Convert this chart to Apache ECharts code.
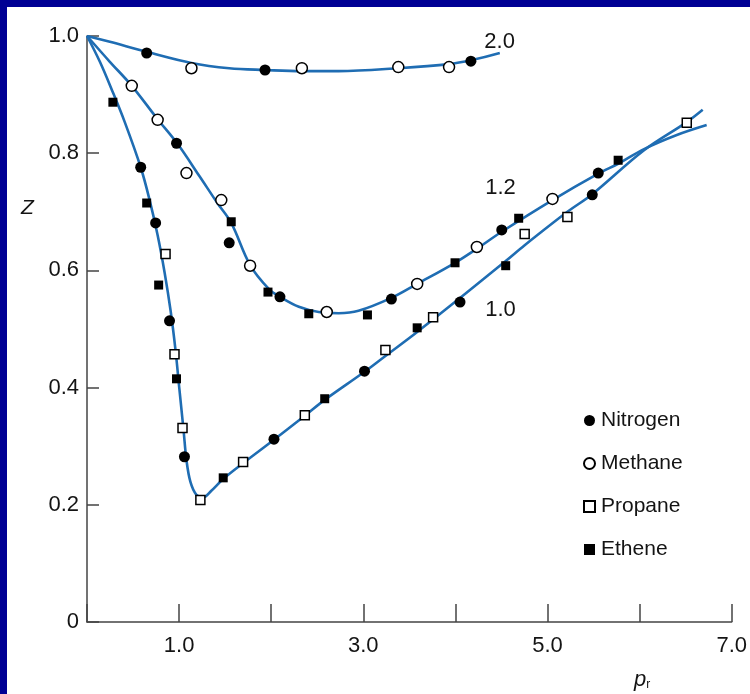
<!DOCTYPE html>
<html><head><meta charset="utf-8">
<script src="https://cdn.jsdelivr.net/npm/echarts@6/dist/echarts.min.js"></script>
<style>
html,body{margin:0;padding:0;background:#000094;width:750px;height:694px;overflow:hidden}
#c{position:absolute;left:7px;top:7px;width:743px;height:687px;background:#fff}
</style></head><body><div id="c"></div>
<script>
// ---- data ----
const xTicks = [0,1,2,3,4,5,6,7];
const yTicks = [0,0.2,0.4,0.6,0.8,1.0];
const curve20 = [[0,1.0],[0.248,0.990],[0.648,0.973],[1.134,0.954],[1.544,0.945],[1.933,0.942],[2.333,0.940],[2.732,0.940],[3.380,0.945],[3.931,0.952],[4.179,0.959],[4.482,0.971]];
const curve12 = [[0,1.0],[0.248,0.956],[0.486,0.915],[0.767,0.858],[0.983,0.816],[1.220,0.761],[1.415,0.715],[1.566,0.681],[1.771,0.609],[1.976,0.568],[2.095,0.555],[2.300,0.538],[2.516,0.529],[2.732,0.527],[2.948,0.531],[3.305,0.553],[3.585,0.577],[3.996,0.613],[4.233,0.637],[4.503,0.666],[5.054,0.720],[5.551,0.765],[5.767,0.782],[6.048,0.807],[6.404,0.831],[6.728,0.848]];
const curve10 = [[0,1.0],[0.140,0.956],[0.270,0.908],[0.410,0.853],[0.583,0.776],[0.680,0.720],[0.767,0.660],[0.842,0.597],[0.907,0.532],[0.961,0.464],[1.004,0.396],[1.048,0.328],[1.080,0.276],[1.123,0.239],[1.188,0.217],[1.263,0.213],[1.350,0.224],[1.479,0.244],[1.695,0.271],[2.030,0.311],[2.365,0.352],[2.581,0.379],[3.013,0.427],[3.240,0.454],[3.585,0.495],[4.050,0.553],[4.546,0.616],[4.752,0.643],[5.216,0.700],[5.486,0.730],[6.048,0.805],[6.512,0.853],[6.685,0.874]];
const nitrogen = [[0.648,0.971],[1.933,0.942],[4.168,0.957],[0.972,0.817],[1.544,0.647],[2.095,0.555],[3.305,0.551],[4.503,0.669],[5.551,0.766],[0.583,0.776],[0.745,0.681],[0.896,0.514],[1.058,0.282],[2.030,0.312],[3.013,0.428],[4.050,0.546],[5.486,0.729]];
const methane = [[1.134,0.945],[2.333,0.945],[3.380,0.947],[3.931,0.947],[0.486,0.915],[0.767,0.857],[1.080,0.766],[1.458,0.720],[1.771,0.608],[2.603,0.529],[3.585,0.577],[4.233,0.640],[5.054,0.722]];
const propane = [[0.853,0.628],[0.950,0.457],[1.037,0.331],[1.231,0.208],[1.695,0.273],[2.365,0.353],[3.240,0.464],[3.758,0.520],[4.752,0.662],[5.216,0.691],[6.512,0.852]];
const ethene = [[0.281,0.887],[0.648,0.715],[0.778,0.575],[0.972,0.415],[1.479,0.246],[2.581,0.381],[3.585,0.502],[4.546,0.608],[1.566,0.683],[1.965,0.563],[2.408,0.526],[3.045,0.524],[3.996,0.613],[4.687,0.689],[5.767,0.788]];
const curveLabels = [[4.48,0.99,'2.0'],[4.49,0.741,'1.2'],[4.49,0.532,'1.0']];
const legendNames = ['Nitrogen','Methane','Propane','Ethene'];

const FONT = '"Liberation Sans", Arial, sans-serif';
const TXT = '#141414';
const CURVE = '#1f6db3';
const chart = echarts.init(document.getElementById('c'));
function curve(d){return {type:'line',data:d,smooth:0.35,showSymbol:false,silent:true,
  lineStyle:{color:CURVE,width:2.6},z:2};}
function pts(name,d,sym,size,filled){return {type:'scatter',name:name,data:d,symbol:sym,symbolSize:size,z:5,
  itemStyle:{color:filled?'#000':'#fff',borderColor:'#000',borderWidth:filled?0:1.5,opacity:1}};}
chart.setOption({
  animation:false,
  grid:{left:80,top:29,right:15,bottom:72},
  xAxis:{type:'value',min:0,max:7,interval:1,
    axisLine:{lineStyle:{color:'#444',width:1.5}},
    axisTick:{inside:true,length:18,lineStyle:{color:'#444',width:1.5}},
    splitLine:{show:false},
    axisLabel:{margin:13,fontSize:22,color:TXT,fontFamily:FONT,
      formatter:v=>(Math.round(v)%2===1?v.toFixed(1):'')}},
  yAxis:{type:'value',min:0,max:1,interval:0.2,
    axisLine:{show:true,lineStyle:{color:'#444',width:1.5}},
    axisTick:{show:true,inside:true,length:12,lineStyle:{color:'#444',width:1.5}},
    splitLine:{show:false},
    axisLabel:{margin:8,fontSize:22,color:TXT,fontFamily:FONT,
      formatter:v=>(v===0?'0':v.toFixed(1))}},
  legend:{data:legendNames,orient:'vertical',left:576,top:403,padding:0,itemWidth:11,itemHeight:11,itemGap:22,
    textStyle:{fontSize:21,color:TXT,fontFamily:FONT,padding:[0,0,0,1]}},
  graphic:[
    {type:'text',left:14,top:191,style:{text:'Z',font:'italic 21px '+FONT,fill:TXT}},
    {type:'text',left:627,top:662,style:{text:'{p|p}{r|r}',rich:{p:{font:'italic 22px '+FONT,fill:TXT},r:{font:'12px '+FONT,fill:TXT,padding:[10,0,0,0]}}}}
  ],
  series:[
    curve(curve20),curve(curve12),curve(curve10),
    pts('Nitrogen',nitrogen,'circle',11,true),
    pts('Methane',methane,'circle',11,false),
    pts('Propane',propane,'rect',9,false),
    pts('Ethene',ethene,'rect',9,true),
    {type:'scatter',data:curveLabels,symbolSize:0,silent:true,itemStyle:{opacity:1},
      label:{show:true,position:'inside',formatter:p=>p.data[2],fontSize:22,color:TXT,opacity:1,fontFamily:FONT}}
  ]
});
</script></body></html>
